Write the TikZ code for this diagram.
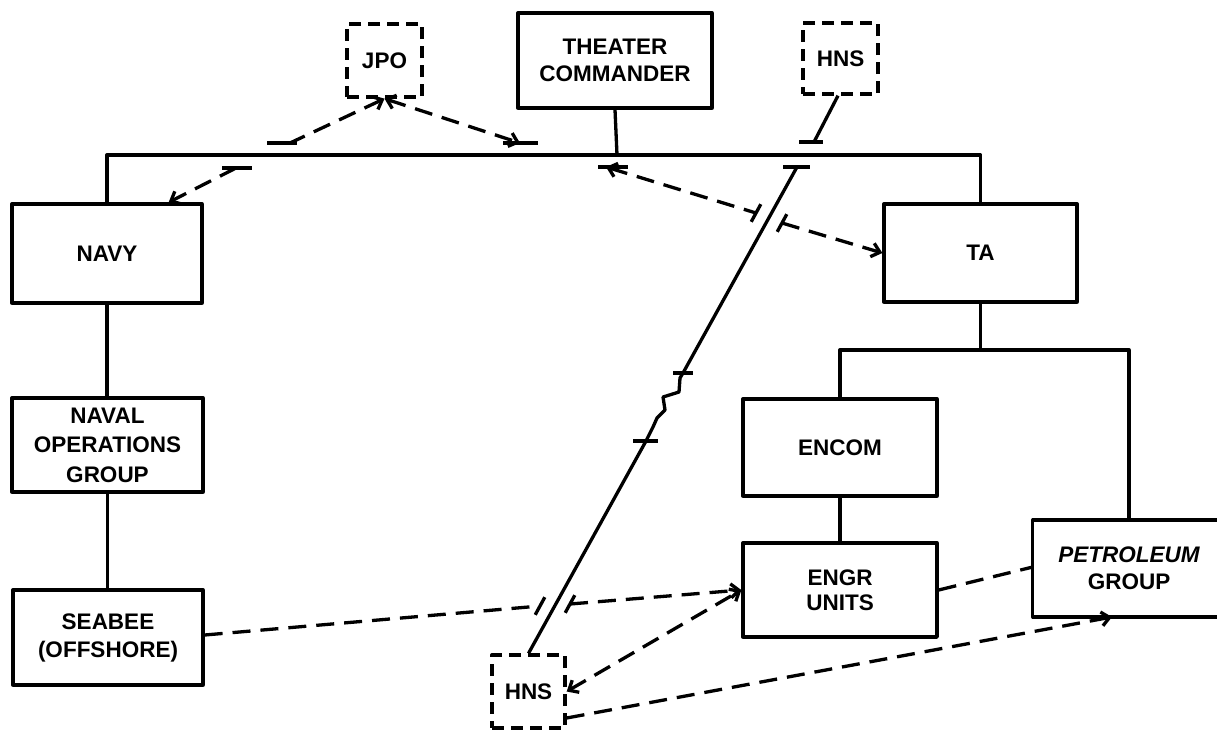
\documentclass[tikz,border=0pt]{standalone}
\usepackage{fontspec}
\setmainfont{Liberation Sans}
\usetikzlibrary{arrows.meta}
\begin{document}
\begin{tikzpicture}[x=1pt,y=-1pt,
  lw/.style={line width=3.3pt, line join=round},
  box/.style={draw, lw, rectangle, inner sep=0pt, align=center,
    font=\bfseries\fontsize{22.5}{27}\selectfont},
  dbox/.style={box, dash pattern=on 12pt off 7pt},
  dline/.style={lw, dash pattern=on 18pt off 10pt},
  >={Straight Barb[length=8pt,width=14pt]}]
\useasboundingbox (0,0) rectangle (1217,731);

% boxes
\node[box, minimum width=194pt, minimum height=95pt] (tc) at (615,60.5) {THEATER\\COMMANDER};
\node[dbox, minimum width=75pt, minimum height=73pt] (jpo) at (384.5,60.5) {JPO};
\node[dbox, minimum width=75pt, minimum height=71pt] (hnst) at (840.5,58.5) {HNS};
\node[box, minimum width=190pt, minimum height=99pt] (navy) at (107,253.5) {NAVY};
\node[box, minimum width=191pt, minimum height=94pt, font=\bfseries\fontsize{22.5}{29.5}\selectfont] (nog) at (107.5,445) {NAVAL\\OPERATIONS\\GROUP};
\node[box, minimum width=190pt, minimum height=95pt, font=\bfseries\fontsize{22.5}{28}\selectfont] (seabee) at (108,637.5) {SEABEE\\(OFFSHORE)};
\node[box, minimum width=193pt, minimum height=98pt] (ta) at (980.5,253) {TA};
\node[box, minimum width=194pt, minimum height=97pt] (encom) at (840,447.5) {ENCOM};
\node[box, minimum width=194pt, minimum height=94pt, font=\bfseries\fontsize{22.5}{25}\selectfont] (engr) at (840,590) {ENGR\\UNITS};
\node[rectangle, inner sep=0pt, minimum width=192pt, minimum height=97pt, align=center,
  font=\bfseries\fontsize{22.5}{27}\selectfont] (pet) at (1129,568.5) {\itshape PETROLEUM\\GROUP};
\node[dbox, minimum width=73pt, minimum height=73pt] (hnsb) at (528.5,691.5) {HNS};
\draw[lw] (1220,520) -| (pet.west |- 0,617) -- (1220,617);

% solid organisation lines
\coordinate (bus) at (617,155);
\draw[lw] (navy.north) |- (bus) -| (ta.north);
\draw[lw] (tc.south) -- (bus);
\draw[lw] (navy.south) -- (navy.south |- nog.north);
\draw[lw] (nog.south) -- (nog.south |- seabee.north);
\coordinate (tabus) at (983,350);
\draw[lw] (ta.south) -- (ta.south |- tabus);
\draw[lw] (encom.north) |- (pet.north |- tabus) -- (pet.north);
\draw[lw] (encom.south) -- (engr.north);

% HNS (top) link
\coordinate (hB) at (814,142);
\draw[lw] ([xshift=-2.5pt]hnst.south) -- (hB);
\draw[lw] ([xshift=-15pt]hB) -- ([xshift=9pt]hB);

% long diagonal HNS link
\coordinate (dT) at (797,167);
\coordinate (w1) at (683,373);
\coordinate (w2) at (646,441);
\draw[lw] ([xshift=-14pt]dT) -- ([xshift=13pt]dT);
\draw[lw] (dT) -- (w1) -- (680,378) -- (679,392) -- (663,397) -- (665,410)
  -- (657,418) -- (653,427) -- (w2) -- (hnsb.north);
\draw[lw] ([xshift=-10pt]w1) -- ([xshift=10pt]w1);
\draw[lw] ([xshift=-13pt]w2) -- ([xshift=12pt]w2);

% JPO links
\coordinate (jL) at (290,143);
\coordinate (jR) at (520,143);
\draw[dline,<-] (jpo.south) -- (jL);
\draw[dline,<->] (jpo.south) -- (jR);
\draw[lw] ([xshift=-23pt]jL) -- ([xshift=7pt]jL);
\draw[lw] ([xshift=-17pt]jR) -- ([xshift=18pt]jR);

% Navy link
\coordinate (nB) at (236,168);
\draw[lw] ([xshift=-14pt]nB) -- ([xshift=16pt]nB);
\draw[dline,->] (nB) -- ([xshift=-35pt]navy.north east);

% theater commander - TA link crossing the diagonal
\coordinate (tB) at (606,167);
\coordinate (x1L) at (756,213);
\coordinate (x1R) at (782,223);
\draw[lw] ([xshift=-8pt]tB) -- ([xshift=22pt]tB);
\draw[dline,<-] (tB) -- (x1L);
\draw[dline,->] (x1R) -- (ta.west);
\draw[lw] ([shift={(4.8pt,8.8pt)}]x1L) -- ([shift={(-4.8pt,-8.8pt)}]x1L);
\draw[lw] ([shift={(4.8pt,8.8pt)}]x1R) -- ([shift={(-4.8pt,-8.8pt)}]x1R);

% bottom links
\coordinate (x2L) at (540,606);
\coordinate (x2R) at (570,604);
\draw[dline] (seabee.east |- 0,635) -- (x2L);
\draw[dline,->] (x2R) -- (engr.west);
\draw[lw] ([shift={(4.8pt,8.8pt)}]x2L) -- ([shift={(-4.8pt,-8.8pt)}]x2L);
\draw[lw] ([shift={(4.8pt,8.8pt)}]x2R) -- ([shift={(-4.8pt,-8.8pt)}]x2R);
\draw[dline,<->] (hnsb.east) -- (engr.west);
\coordinate (petB) at (1112,617);
\draw[dline,->] ([yshift=-26.5pt]hnsb.east) -- (petB);
\draw[dline] (engr.east) -- (pet.west |- 0,567);
\end{tikzpicture}
\end{document}
